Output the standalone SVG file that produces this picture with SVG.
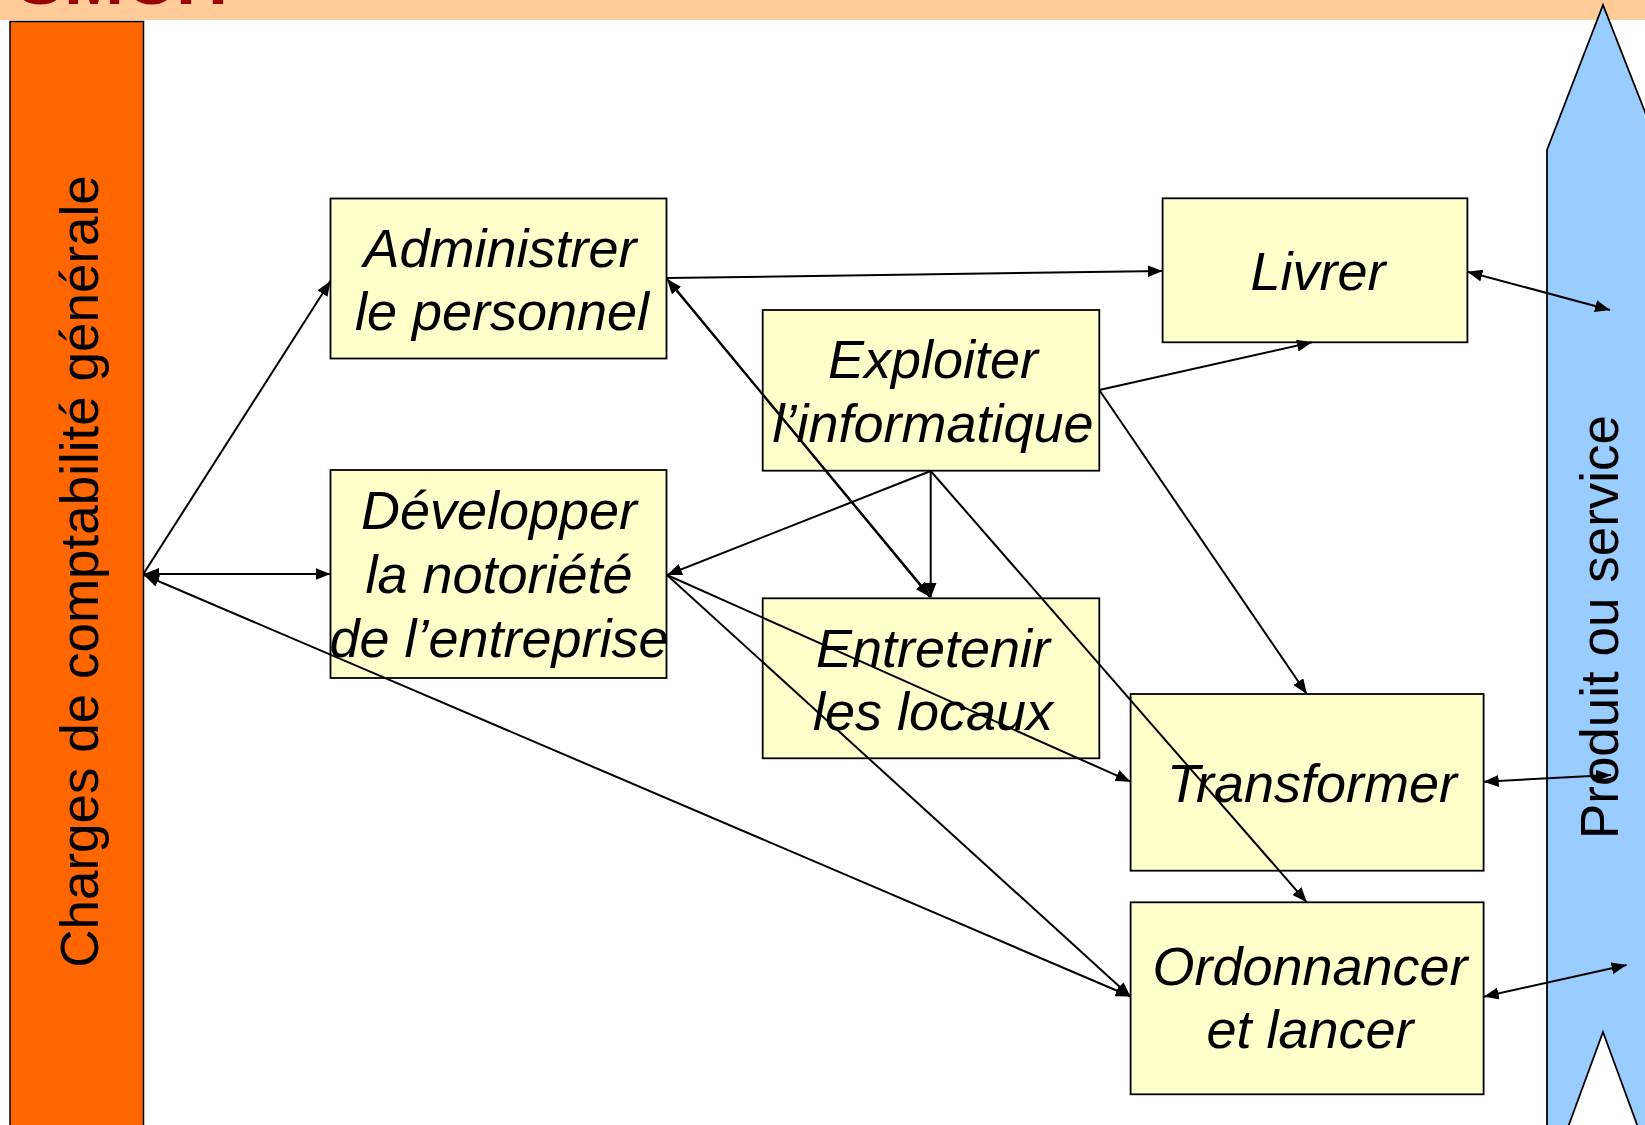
<svg xmlns="http://www.w3.org/2000/svg" width="1645" height="1125" viewBox="0 0 1645 1125">
<defs>
<style>
.box{fill:#FFFFCC;stroke:#000;stroke-width:1.8}
.lbl{font-family:"Liberation Sans",Arial,sans-serif;font-style:italic;font-size:54px;fill:#000;text-anchor:middle}
.vt{font-family:"Liberation Sans",Arial,sans-serif;font-size:53px;fill:#000;text-anchor:middle}
.cn{stroke:#000;stroke-width:2;fill:none}
.s{marker-end:url(#ah)}
.d{marker-start:url(#ah);marker-end:url(#ah)}
</style>
<marker id="ah" viewBox="0 0 15 12" refX="15" refY="6" markerWidth="15" markerHeight="12" markerUnits="userSpaceOnUse" orient="auto-start-reverse">
<path d="M0,0 L15,6 L0,12 z" fill="#000"/>
</marker>
</defs>
<rect x="0" y="0" width="1645" height="1125" fill="#fff"/>
<rect x="0" y="0" width="1645" height="20" fill="#FFCC99"/>
<text x="16" y="4" font-family="Liberation Sans,Arial,sans-serif" font-weight="bold" font-size="72" fill="#990000">SMCH</text>

<g id="charges">
<rect x="10" y="21.5" width="133.5" height="1110" fill="#FF6600" stroke="#000" stroke-width="1.5"/>
<text class="vt" transform="translate(98,571.5) rotate(-90)">Charges de comptabilité générale</text>
</g>

<g id="produit">
<polygon points="1547,150 1603,5 1660,150 1660,1130 1639,1130 1603,1032 1567,1130 1547,1130" fill="#99CCFF" stroke="#000" stroke-width="1.8"/>
<text class="vt" transform="translate(1618,627) rotate(-90)">Produit ou service</text>
</g>

<g id="administrer">
<rect class="box" x="330.5" y="198.5" width="336" height="160"/>
<text class="lbl" x="500" y="266.7">Administrer</text>
<text class="lbl" x="502" y="330">le personnel</text>
</g>

<g id="developper">
<rect class="box" x="330.5" y="470" width="336" height="208"/>
<text class="lbl" x="499" y="529.3">Développer</text>
<text class="lbl" x="499" y="593.3">la notoriété</text>
<text class="lbl" x="499" y="657.3">de l’entreprise</text>
</g>

<g id="exploiter">
<rect class="box" x="762.7" y="310" width="336.6" height="160.7"/>
<text class="lbl" x="933" y="378.3">Exploiter</text>
<text class="lbl" x="933" y="442.3">l’informatique</text>
</g>

<g id="entretenir">
<rect class="box" x="762.7" y="598.3" width="336.6" height="160"/>
<text class="lbl" x="933" y="666.7">Entretenir</text>
<text class="lbl" x="933" y="730">les locaux</text>
</g>

<g id="livrer">
<rect class="box" x="1162.6" y="198.3" width="304.8" height="144"/>
<text class="lbl" x="1318" y="290">Livrer</text>
</g>

<g id="transformer">
<rect class="box" x="1130.6" y="694" width="353" height="176.7"/>
<text class="lbl" x="1312" y="801.7">Transformer</text>
</g>

<g id="ordonnancer">
<rect class="box" x="1130.6" y="902.3" width="353" height="192"/>
<text class="lbl" x="1310" y="985">Ordonnancer</text>
<text class="lbl" x="1310" y="1048.3">et lancer</text>
</g>

<g id="connectors">
<line class="cn s" x1="144" y1="573" x2="330.5" y2="281"/>
<line class="cn d" x1="144" y1="574" x2="330.5" y2="574"/>
<line class="cn d" x1="144" y1="575" x2="1130.6" y2="996.5"/>
<line class="cn s" x1="667" y1="278" x2="1162.6" y2="271"/>
<line class="cn d" x1="667" y1="279" x2="930" y2="597"/>
<line class="cn" x1="669" y1="281" x2="929" y2="595"/>
<line class="cn s" x1="1099.3" y1="390" x2="1312" y2="342.3"/>
<line class="cn s" x1="1099.3" y1="390" x2="1306.8" y2="694"/>
<line class="cn s" x1="930.7" y1="471" x2="667" y2="575"/>
<line class="cn s" x1="930.7" y1="471" x2="930.7" y2="597.5"/>
<line class="cn s" x1="930.7" y1="471" x2="1306.8" y2="902.3"/>
<line class="cn s" x1="667" y1="575" x2="1130.6" y2="781.7"/>
<line class="cn s" x1="667" y1="575" x2="1130.6" y2="996.7"/>
<line class="cn d" x1="1467.4" y1="271.7" x2="1610" y2="310"/>
<line class="cn d" x1="1483.7" y1="781.7" x2="1611" y2="775"/>
<line class="cn d" x1="1483.7" y1="996.7" x2="1626.6" y2="965"/>
</g>
</svg>
